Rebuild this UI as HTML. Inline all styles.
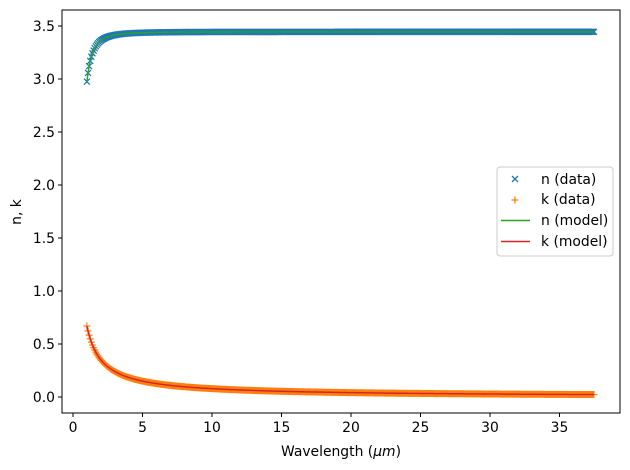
<!DOCTYPE html>
<html><head><meta charset="utf-8"><style>body{margin:0;background:#fff}svg{display:block;font-family:"DejaVu Sans","Liberation Sans",sans-serif}</style></head>
<body><svg id="s" width="630" height="470" xmlns="http://www.w3.org/2000/svg">
<rect width="630" height="470" fill="#fff"/>
<g id="data"></g>
<rect x="62" y="10" width="558" height="403" fill="none" stroke="#000" stroke-width="1"/>
<g font-size="13.9" fill="#000" text-anchor="end" id="yt"></g>
<g font-size="13.9" fill="#000" text-anchor="middle" id="xt"></g>
<text x="341" y="456" font-size="13.9" text-anchor="middle">Wavelength (<tspan font-style="italic">μm</tspan>)</text>
<text transform="translate(21,212) rotate(-90)" font-size="13.9" text-anchor="middle">n, k</text>
<g>
<rect x="497" y="167" width="116" height="89" rx="3" fill="#fff" fill-opacity="0.8" stroke="#ccc"/>
<path d="M512,176 l6,6 M518,176 l-6,6" stroke="#1f77b4" stroke-width="1.3"/>
<path d="M511.5,200 h7 M515,196.5 v7" stroke="#ff7f0e" stroke-width="1.3"/>
<path d="M501,220.5 h29" stroke="#2ca02c" stroke-width="1.5"/>
<path d="M501,241.5 h29" stroke="#d62728" stroke-width="1.5"/>
<g font-size="13.9"><text x="541" y="184">n (data)</text><text x="541" y="204">k (data)</text><text x="541" y="225">n (model)</text><text x="541" y="246">k (model)</text></g>
</g>
</svg>
<script>
var X=function(v){return 73+v*13.9},Y=function(v){return 397-v*106};
var s="",yt="",xt="";
for(var i=0;i<=7;i++){var v=i*0.5,y=Y(v);s+='<path d="M58,'+y+'h4" stroke="#000"/>';yt+='<text x="55" y="'+(y+5)+'">'+v.toFixed(1)+'</text>';}
for(var i=0;i<=7;i++){var x=X(i*5);s+='<path d="M'+x+',413v4" stroke="#000"/>';xt+='<text x="'+x+'" y="432">'+(i*5)+'</text>';}
function n(l){return 3.445-0.47/Math.pow(l,2.5)}
function k(l){return 0.67*Math.pow(l,-0.93)}
var pts=[];for(var l=1;l<=37.55;l+=0.08)pts.push(l);
var m="",p="";
pts.forEach(function(l){var x=X(l),y=Y(n(l));m+="M"+(x-3)+","+(y-3)+"l6,6M"+(x+3)+","+(y-3)+"l-6,6";var y2=Y(k(l));p+="M"+(x-3.5)+","+y2+"h7M"+x+","+(y2-3.5)+"v7";});
var ln="",lk="";pts.forEach(function(l,i){ln+=(i?"L":"M")+X(l)+","+Y(n(l));lk+=(i?"L":"M")+X(l)+","+Y(k(l));});
s+='<path d="'+m+'" stroke="#1f77b4" stroke-width="1.2" fill="none"/>';
s+='<path d="'+p+'" stroke="#ff7f0e" stroke-width="1.2" fill="none"/>';
s+='<path d="'+ln+'" stroke="#2ca02c" stroke-width="1.5" fill="none"/>';
s+='<path d="'+lk+'" stroke="#d62728" stroke-width="1.5" fill="none"/>';
document.getElementById("data").innerHTML=s;
document.getElementById("yt").innerHTML=yt;document.getElementById("xt").innerHTML=xt;
</script></body></html>
